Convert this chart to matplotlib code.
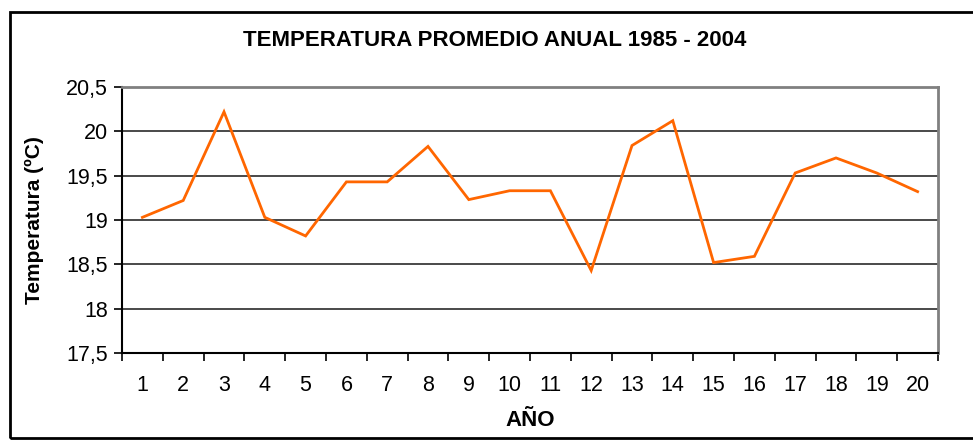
import matplotlib
matplotlib.use("Agg")
import matplotlib.pyplot as plt
from matplotlib.patches import Rectangle
import numpy as np

years = list(range(1, 21))
temps = [19.03, 19.22, 20.22, 19.03, 18.82, 19.43, 19.43, 19.83, 19.23, 19.33,
         19.33, 18.43, 19.84, 20.12, 18.52, 18.59, 19.53, 19.70, 19.53, 19.32]
yticks = [17.5, 18, 18.5, 19, 19.5, 20, 20.5]
ytick_labels = ["17,5", "18", "18,5", "19", "19,5", "20", "20,5"]

plt.rcParams['font.family'] = ['Liberation Sans', 'DejaVu Sans']

fig = plt.figure(figsize=(9.73, 4.41), dpi=100)
ax = fig.add_axes([122/973, 1 - 353/441, (938 - 122)/973, (353 - 87)/441])

x = np.arange(len(years))
ax.plot(x, temps, color='#ff6600', lw=2, solid_joinstyle='miter')
ax.set_xlim(-0.5, len(years) - 0.5)
ax.set_ylim(17.5, 20.5)

ax.set_yticks(yticks)
ax.set_yticklabels(ytick_labels, fontsize=15.5)
ax.set_xticks(x)
ax.set_xticklabels([str(v) for v in years], fontsize=15.5)
ax.set_xticks(np.arange(len(years) + 1) - 0.5, minor=True)
ax.tick_params(axis='x', which='major', length=0, pad=16)
ax.tick_params(axis='x', which='minor', length=6, width=1.2, direction='out')
ax.tick_params(axis='y', length=6, width=1.2, direction='out', pad=4)

ax.grid(axis='y', color='#2a2a2a', lw=1.2)
ax.set_axisbelow(True)
for s in ['top', 'right']:
    ax.spines[s].set_color('#808080')
    ax.spines[s].set_linewidth(2)
for s in ['left', 'bottom']:
    ax.spines[s].set_color('#000000')
    ax.spines[s].set_linewidth(1.5)

ax.set_ylabel("Temperatura (ºC)", fontsize=15, fontweight='bold', labelpad=16)
ax.set_xlabel("AÑO", fontsize=16, fontweight='bold', labelpad=10)
fig.text(495/973, 1 - 40/441, "TEMPERATURA PROMEDIO ANUAL 1985 - 2004",
         ha='center', va='center', fontsize=16, fontweight='bold')

fig.patches.append(Rectangle((10/973, 3/441), 1.2, 1 - 15/441, transform=fig.transFigure,
                             fill=False, edgecolor='black', lw=2))

fig.savefig("out.png", dpi=100)
